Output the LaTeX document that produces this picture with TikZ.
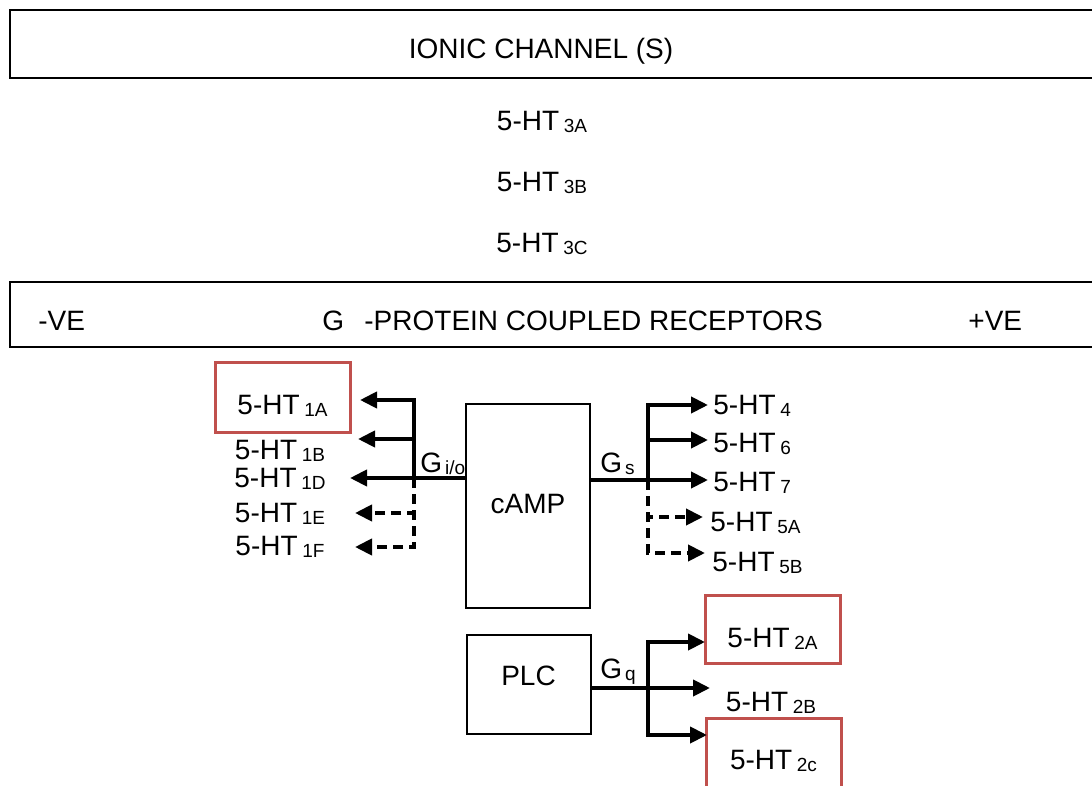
\documentclass[tikz,border=0pt]{standalone}
\usepackage{fontspec}
\setmainfont{Liberation Sans}
\usetikzlibrary{arrows.meta,positioning}
\definecolor{boxred}{HTML}{C0504D}
\newcommand{\recep}[1]{5-HT\,\raisebox{-1pt}{\fontsize{9.5}{9.5}\selectfont #1}}
\newcommand{\gsub}[1]{G\kern1.5pt\raisebox{-1pt}{\fontsize{9.5}{9.5}\selectfont #1}}

\begin{document}
\begin{tikzpicture}[
  x=0.5pt, y=-0.5pt,
  font=\fontsize{14}{16}\selectfont,
  banner/.style={draw, line width=1pt},
  block/.style={draw, line width=1pt, minimum width=62pt, text height=10pt},
  redbox/.style={draw=boxred, line width=1.5pt, minimum width=67.5pt},
  lab/.style={inner sep=2pt, text height=10pt, text depth=1pt},
  wire/.style={line width=2pt},
  arr/.style={wire, -{Triangle[length=8.5pt,width=8pt]}},
  brk/.style={dash pattern=on 5pt off 3pt}
]
\useasboundingbox (0,0) rectangle (1092,786);
\clip (0,0) rectangle (1092,786);
% ionic channels
\draw[banner] (10,10) rectangle (1110,78);
\node[lab] (ion) at (541,50) {IONIC CHANNEL (S)};
\node[lab] (t3a) at (542,122) {\recep{3A}};
\node[lab, below=15pt of t3a] (t3b) {\recep{3B}};
\node[lab, below=15pt of t3b] (t3c) {\recep{3C}};
% G-protein coupled receptors
\draw[banner] (10,282) rectangle (1110,347);
\node[lab, anchor=west] (neg) at (34,321) {-VE};
\node[lab, anchor=west] (gp) at (318,321) {G};
\node[lab, anchor=west] (gpcr) at (360,321) {-PROTEIN COUPLED RECEPTORS};
\node[lab, anchor=west] (pos) at (964,321) {+VE};
% effectors
\node[block, minimum height=102pt, text depth=3pt] (camp) at (528,506) {cAMP};
\node[block, minimum height=49.5pt, text depth=9pt] (plc) at (528.5,684.5) {PLC};
% receptors
\node[redbox, minimum height=35pt] (b1a) at (282.5,397) {};
\node[lab, yshift=-4pt] (t1a) at (b1a) {\recep{1A}};
\node[lab] (t1b) at (280,450) {\recep{1B}};
\node[lab] (t1d) at (280,478) {\recep{1D}};
\node[lab] (t1e) at (280,513) {\recep{1E}};
\node[lab] (t1f) at (280,546) {\recep{1F}};
\node[lab, anchor=west] (t4) at (709,405) {\recep{4}};
\node[lab, anchor=west] (t6) at (709,443) {\recep{6}};
\node[lab, anchor=west] (t7) at (709,482) {\recep{7}};
\node[lab, anchor=west] (t5a) at (706,522) {\recep{5A}};
\node[lab, anchor=west] (t5b) at (708,562) {\recep{5B}};
\node[redbox, minimum height=34pt] (b2a) at (772.5,629) {};
\node[lab, yshift=-4.5pt] (t2a) at (b2a) {\recep{2A}};
\node[lab] (t2b) at (771,702) {\recep{2B}};
\node[redbox, minimum height=45pt] (b2c) at (773.5,763) {};
\node[lab, yshift=1.5pt] (t2c) at (b2c) {\recep{2c}};
% G protein labels
\node[lab, anchor=west] (gio) at (416,463) {\gsub{i/o}};
\node[lab, anchor=west] (gs) at (596,463) {\gsub{s}};
\node[lab, anchor=west] (gq) at (596,669) {\gsub{q}};
% junctions and arrow ends
\coordinate (li) at (414,478);
\coordinate (ri) at (648,480);
\coordinate (qi) at (648,688);
\foreach \n/\x/\y in {1a/360/400, 1b/358/439, 1d/350/478, 1e/355/513, 1f/355/547,
    4/708/405, 6/708/440, 7/708/480, 5a/703/517, 5b/705/553,
    2a/705/642, 2b/710/688, 2c/707/735}
  \coordinate (p\n) at (\x,\y);
% Gi/o
\draw[arr] (camp.west |- li) -- (p1d);
\draw[arr] (li) |- (p1a);
\draw[arr] (li) |- (p1b);
\draw[arr, brk] (li) |- (p1e);
\draw[arr, brk] (li) |- (p1f);
% Gs
\draw[arr] (camp.east |- ri) -- (p7);
\draw[arr] (ri) |- (p4);
\draw[arr] (ri) |- (p6);
\draw[arr, brk] (ri) |- (p5a);
\draw[arr, brk] (ri) |- (p5b);
% Gq
\draw[arr] (plc.east |- qi) -- (p2b);
\draw[arr] (qi) |- (p2a);
\draw[arr] (qi) |- (p2c);
\end{tikzpicture}
\end{document}
